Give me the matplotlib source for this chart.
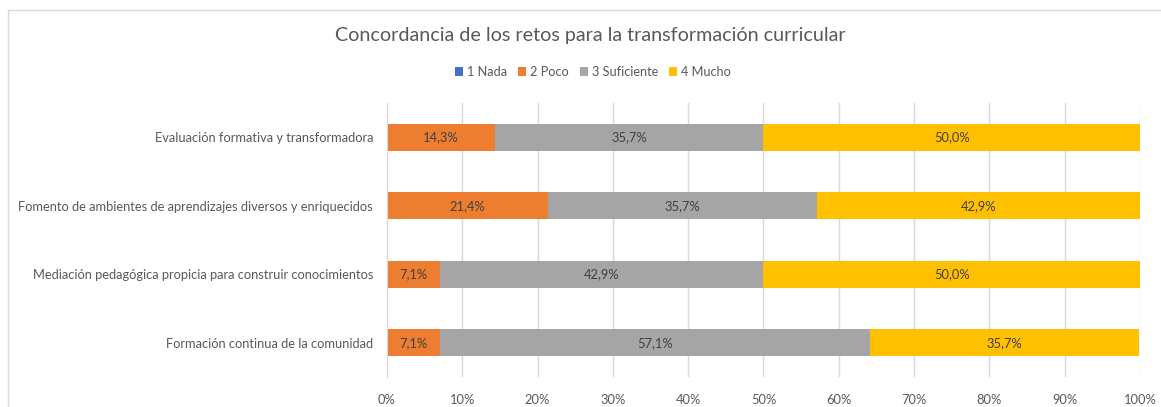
import matplotlib
matplotlib.use("Agg")
import matplotlib.pyplot as plt
from matplotlib.patches import Rectangle

categories = ["Evaluación formativa y transformadora",
              "Fomento de ambientes de aprendizajes diversos y enriquecidos",
              "Mediación pedagógica propicia para construir conocimientos",
              "Formación continua de la comunidad"]
series_names = ["1 Nada", "2 Poco", "3 Suficiente", "4 Mucho"]
nada = [0.0, 0.0, 0.0, 0.0]
poco = [14.3, 21.4, 7.1, 7.1]
suficiente = [35.7, 35.7, 42.9, 57.1]
mucho = [50.0, 42.9, 50.0, 35.7]
colors = ["#4472C4", "#ED7D31", "#A5A5A5", "#FFC000"]
xticks = [0, 10, 20, 30, 40, 50, 60, 70, 80, 90, 100]

plt.rcParams['font.family'] = ['Lato', 'DejaVu Sans']
fig = plt.figure(figsize=(11.61, 4.07), dpi=100)
W, H = 1161, 407
ax = fig.add_axes([387/W, 1-377/H, (1140-387)/W, (377-103)/H])

# outer chart frame
fig.patches.append(Rectangle((8/W, -0.1), 1.2, 1-10/H+0.1, transform=fig.transFigure,
                             fill=False, edgecolor="#D9D9D9", linewidth=1.0))

ypos = list(range(len(categories)))
left = [0.0]*len(categories)
for name, vals, col in zip(series_names, [nada, poco, suficiente, mucho], colors):
    bars = ax.barh(ypos, vals, left=left, height=0.4, color=col, label=name, zorder=3)
    for b, v, l in zip(bars, vals, left):
        if v > 0:
            ax.text(l + v/2, b.get_y() + b.get_height()/2,
                    f"{v:.1f}%".replace(".", ","), ha="center", va="center",
                    fontsize=9.3, color="#404040", zorder=4)
    left = [a + b for a, b in zip(left, vals)]

ax.set_xlim(0, 100)
ax.set_ylim(len(categories)-0.5, -0.5)
ax.set_xticks(xticks)
ax.set_xticklabels([f"{t}%" for t in xticks], fontsize=9.3, color="#595959")
ax.set_yticks(ypos)
ax.set_yticklabels(categories, fontsize=9.3, color="#595959")
ax.tick_params(axis="both", length=0)
ax.tick_params(axis="x", pad=12)
ax.tick_params(axis="y", pad=10)
ax.grid(axis="x", color="#D9D9D9", linewidth=1, zorder=0)
for s in ["top", "right", "bottom"]:
    ax.spines[s].set_visible(False)
ax.spines["left"].set_color("#D9D9D9")
ax.spines["left"].set_zorder(5)

fig.text(590/W, 1-36/H, "Concordancia de los retos para la transformación curricular",
         ha="center", va="center", fontsize=14.2, color="#595959")
leg = fig.legend(loc="center", bbox_to_anchor=(593/W, 1-72/H), ncol=4, frameon=False,
                 fontsize=9.2, handlelength=0.6, handleheight=0.6, handletextpad=0.3,
                 columnspacing=0.9, labelcolor="#595959")

fig.savefig("out.png", dpi=100)
